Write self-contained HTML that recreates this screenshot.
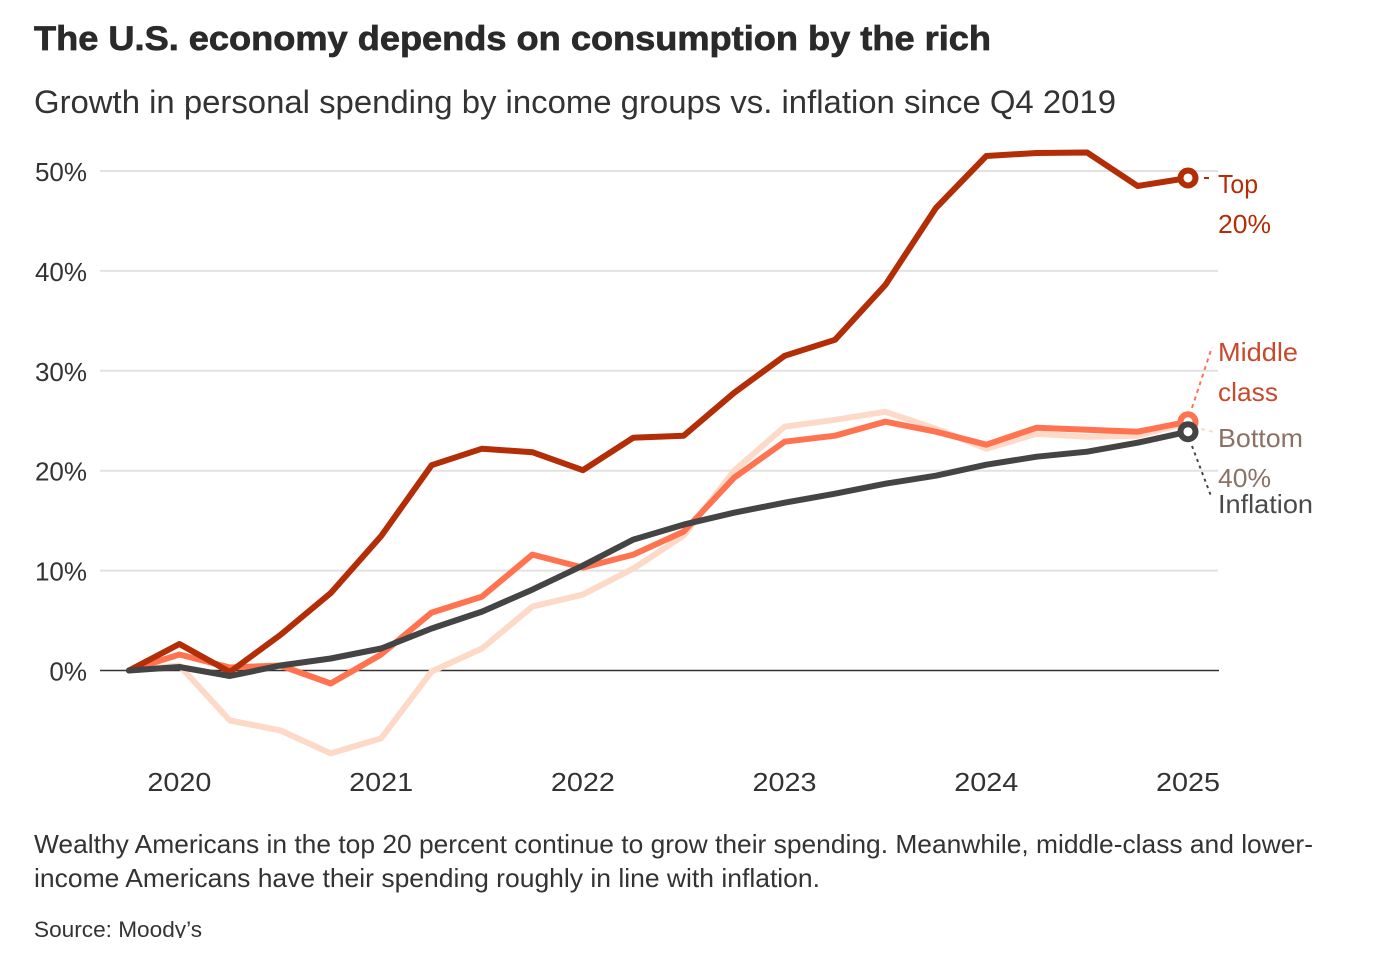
<!DOCTYPE html>
<html lang="en">
<head>
<meta charset="utf-8">
<title>The U.S. economy depends on consumption by the rich</title>
<style>
html,body{margin:0;padding:0;background:#fff;width:1378px;height:974px;overflow:hidden}
svg{display:block}
text{font-family:"Liberation Sans",sans-serif;fill:#2a2a2a}
</style>
</head>
<body>
<svg id="chart" width="1378" height="974" viewBox="0 0 1378 974" xmlns="http://www.w3.org/2000/svg">
  <defs><clipPath id="source-clip"><rect x="0" y="900" width="1378" height="38"/></clipPath></defs>
  <text x="34" y="50" font-size="34" font-weight="700" textLength="957" lengthAdjust="spacingAndGlyphs" style="stroke:#2a2a2a;stroke-width:0.7">The U.S. economy depends on consumption by the rich</text>
  <text x="34" y="113" font-size="32" textLength="1082" lengthAdjust="spacingAndGlyphs" style="fill:#333">Growth in personal spending by income groups vs. inflation since Q4 2019</text>
  <g id="grid"></g>
  <g id="yticks"></g>
  <g id="xticks"></g>
  <g id="series"></g>
  <g fill="none" stroke-width="2">
    <path d="M1204 178H1209" stroke="#b32d07"/>
    <path d="M1192 408L1212 347" stroke="#ff7350" stroke-dasharray="4 4"/>
    <path d="M1201 429L1214 432" stroke="#fdd9c8" stroke-dasharray="4 4"/>
    <path d="M1192 446L1211 496" stroke="#444" stroke-dasharray="3 4"/>
  </g>
  <g font-size="26">
    <text x="1218" y="193" textLength="40" lengthAdjust="spacingAndGlyphs" style="fill:#b32d07">Top</text>
    <text x="1218" y="233" textLength="53" lengthAdjust="spacingAndGlyphs" style="fill:#b32d07">20%</text>
    <text x="1218" y="361" textLength="80" lengthAdjust="spacingAndGlyphs" style="fill:#c9492c">Middle</text>
    <text x="1218" y="401" textLength="60" lengthAdjust="spacingAndGlyphs" style="fill:#c9492c">class</text>
    <text x="1218" y="447" textLength="85" lengthAdjust="spacingAndGlyphs" style="fill:#8a7265">Bottom</text>
    <text x="1218" y="487" textLength="53" lengthAdjust="spacingAndGlyphs" style="fill:#8a7265">40%</text>
    <text x="1218" y="513" textLength="95" lengthAdjust="spacingAndGlyphs" style="fill:#4a4a4a">Inflation</text>
  </g>
  <text x="34" y="853" font-size="26" textLength="1279" lengthAdjust="spacingAndGlyphs" style="fill:#333">Wealthy Americans in the top 20 percent continue to grow their spending. Meanwhile, middle-class and lower-</text>
  <text x="34" y="887" font-size="26" textLength="786" lengthAdjust="spacingAndGlyphs" style="fill:#333">income Americans have their spending roughly in line with inflation.</text>
  <text x="34" y="937" font-size="22" textLength="168" lengthAdjust="spacingAndGlyphs" clip-path="url(#source-clip)" style="fill:#333">Source: Moody’s</text>
</svg>
<script>
const quarterCount = 22;
const yTickValues = [0, 10, 20, 30, 40, 50];
const yTickLabels = ['0%', '10%', '20%', '30%', '40%', '50%'];
const xTickIndexes = [1, 5, 9, 13, 17, 21];
const xTickLabels = ['2020', '2021', '2022', '2023', '2024', '2025'];
const bottom40 = [0, 0.5, -5, -6, -8.3, -6.8, -0.1, 2.2, 6.4, 7.6, 10.2, 13.5, 20, 24.4, 25.1, 25.9, 24.2, 22.2, 23.7, 23.4, 23.5, 24.8];
const middleClass = [0, 1.6, 0.3, 0.5, -1.3, 1.6, 5.8, 7.4, 11.6, 10.3, 11.6, 13.9, 19.3, 22.9, 23.5, 24.9, 23.9, 22.6, 24.3, 24.1, 23.9, 24.9];
const top20 = [0, 2.65, -0.15, 3.55, 7.75, 13.45, 20.55, 22.2, 21.85, 20.05, 23.3, 23.5, 27.8, 31.5, 33.1, 38.6, 46.3, 51.5, 51.8, 51.85, 48.5, 49.3];
const inflation = [0, 0.35, -0.55, 0.5, 1.2, 2.2, 4.2, 5.9, 8.1, 10.5, 13.1, 14.6, 15.8, 16.8, 17.7, 18.7, 19.5, 20.6, 21.4, 21.9, 22.8, 23.9];

const NS = 'http://www.w3.org/2000/svg';
const xScale = i => 129 + i * (1188 - 129) / (quarterCount - 1);
const yScale = v => 670.5 - v * 9.99;

function make(tag, parent, attrs) {
  const el = document.createElementNS(NS, tag);
  for (const k in attrs) el.setAttribute(k, attrs[k]);
  parent.appendChild(el);
  return el;
}

const gridG = document.getElementById('grid');
const yG = document.getElementById('yticks');
const xG = document.getElementById('xticks');
const seriesG = document.getElementById('series');

yTickValues.forEach((v, i) => {
  const line = make('line', gridG, {
    x1: 100, x2: v === 0 ? 1219 : 1218, y1: yScale(v), y2: yScale(v),
    stroke: v === 0 ? '#333' : '#e2e2e2', 'stroke-width': v === 0 ? 1.6 : 2
  });
  
  
  const label = make('text', yG, {
    x: 87, y: yScale(v) + 10, 'font-size': 26, 'text-anchor': 'end', style: 'fill:#333'
  });
  label.textContent = yTickLabels[i];
  
  
});

xTickIndexes.forEach((idx, i) => {
  const label = make('text', xG, {
    x: xScale(idx), y: 791, 'font-size': 26, 'text-anchor': 'middle',
    textLength: 64, lengthAdjust: 'spacingAndGlyphs', style: 'fill:#333'
  });
  label.textContent = xTickLabels[i];
  
  
});

function drawSeries(values, color) {
  const d = values.map((v, i) => (i ? 'L' : 'M') + xScale(i).toFixed(1) + ' ' + yScale(v).toFixed(1)).join('');
  const path = make('path', seriesG, {
    d: d, fill: 'none', stroke: color, 'stroke-width': 6,
    'stroke-linejoin': 'round', 'stroke-linecap': 'round'
  });
  
  
  const last = values.length - 1;
  const dot = make('circle', seriesG, {
    cx: xScale(last), cy: yScale(values[last]), r: 7.5, fill: '#fff', stroke: color, 'stroke-width': 6
  });
  
  
}

drawSeries(bottom40, '#fdd9c8');
drawSeries(middleClass, '#ff7350');
drawSeries(top20, '#b32d07');
drawSeries(inflation, '#444444');
</script>
</body>
</html>
